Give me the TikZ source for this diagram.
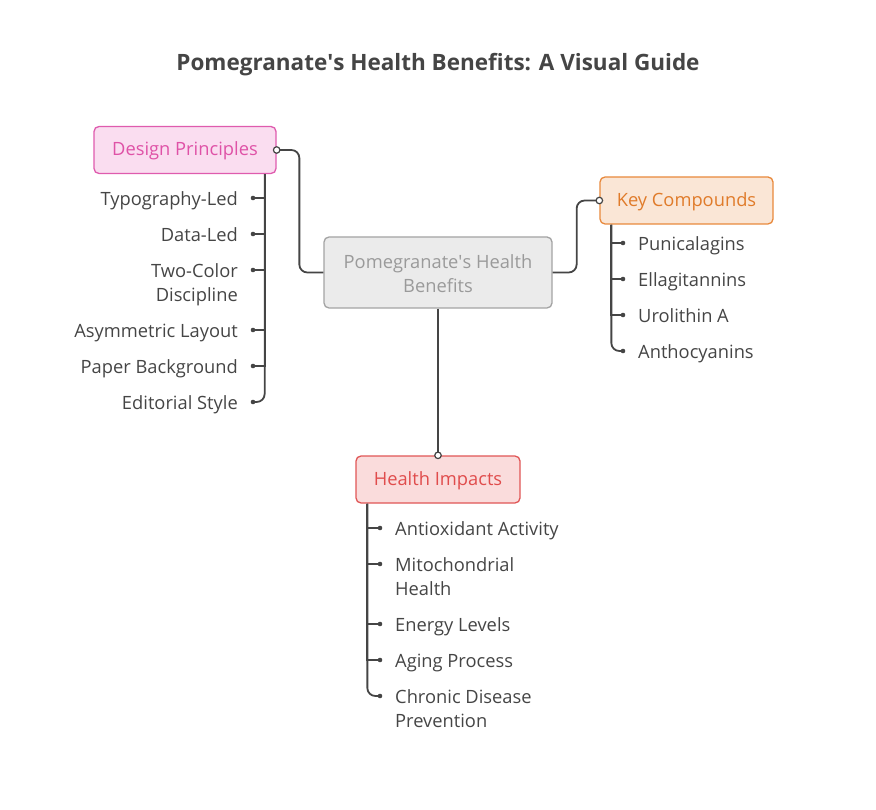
\documentclass[tikz,border=0pt]{standalone}
\usepackage{fontspec}
\setmainfont{Open Sans}
\usetikzlibrary{positioning}

\definecolor{ink}{HTML}{454545}
\definecolor{hubfill}{HTML}{EBEBEB}
\definecolor{hubline}{HTML}{A3A3A3}
\definecolor{hubtext}{HTML}{9A9A9A}
\definecolor{pinkfill}{HTML}{FADDF0}
\definecolor{pinkline}{HTML}{DF5BAE}
\definecolor{pinktext}{HTML}{DF52A7}
\definecolor{orangefill}{HTML}{FAE6D6}
\definecolor{orangeline}{HTML}{E8893C}
\definecolor{orangetext}{HTML}{E07B2A}
\definecolor{redfill}{HTML}{FADCDC}
\definecolor{redline}{HTML}{E05656}
\definecolor{redtext}{HTML}{E04C4C}

\begin{document}
\begin{tikzpicture}
    [x=1pt,y=-1pt,
    every node/.style={font=\fontsize{18.3}{24}\selectfont},
    box/.style={rounded corners=5pt, line width=1.3pt, minimum height=47pt, inner sep=0pt},
    topic/.style={box, draw=#1line, fill=#1fill, text=#1text, text height=15.5pt, text depth=4.4pt},
    hub/.style={box, draw=hubline, fill=hubfill, text=hubtext, align=center,
      minimum width=228pt, minimum height=71pt},
    leafl/.style={anchor=base east, align=right, text=ink, inner sep=0pt},
    leafr/.style={anchor=base west, align=left, text=ink, inner sep=0pt},
    dot/.style={circle, fill=ink, inner sep=0pt, minimum size=4.6pt},
    knob/.style={circle, draw=ink, fill=white, line width=1.2pt, inner sep=0pt, minimum size=6.5pt},
    link/.style={draw=ink, line width=1.8pt}]
    \useasboundingbox (0,0) rectangle (876,810);

    \node[text=ink, font=\fontsize{22.5}{27}\selectfont\bfseries] (title) at (438,64.5)
      {Pomegranate\textquotesingle s Health Benefits: A Visual Guide};

    \node[hub] (hub) at (438,272.5) {\rule{0pt}{16.4pt}Pomegranate\textquotesingle s Health\\Benefits};
    \node[topic=pink, minimum width=182pt] (design) at (185,150) {Design Principles};
    \node[topic=orange, minimum width=173pt] (keys) at (686.5,200.5) {Key Compounds};
    \node[topic=red, minimum width=164pt] (impact) at (438,479.5) {Health Impacts};

    % design principles
    \node[leafl] (typo) at (238,205.5) {Typography-Led};
    \node[leafl] (data) at (238,241.5) {Data-Led};
    \node[leafl] (twocol) at (238,301.5) {Two-Color\\Discipline};
    \node[leafl] (asym) at (238,337.5) {Asymmetric Layout};
    \node[leafl] (paper) at (238,373.5) {Paper Background};
    \node[leafl] (edit) at (238,409.5) {Editorial Style};
    \node[dot] (d-typo) at (253,198) {};
    \node[dot] (d-data) at (253,234) {};
    \node[dot] (d-twocol) at (253,270) {};
    \node[dot] (d-asym) at (253,330) {};
    \node[dot] (d-paper) at (253,366) {};
    \node[dot] (d-edit) at (253,402) {};

    % key compounds
    \node[leafr] (puni) at (638,250.5) {Punicalagins};
    \node[leafr] (ella) at (638,286.5) {Ellagitannins};
    \node[leafr] (uro) at (638,322.5) {Urolithin A};
    \node[leafr] (antho) at (638,358.5) {Anthocyanins};
    \node[dot] (d-puni) at (623,243) {};
    \node[dot] (d-ella) at (623,279) {};
    \node[dot] (d-uro) at (623,315) {};
    \node[dot] (d-antho) at (623,351) {};

    % health impacts
    \node[leafr] (antiox) at (395,535.5) {Antioxidant Activity};
    \node[leafr] (mito) at (395,595.5) {Mitochondrial\\Health};
    \node[leafr] (energy) at (395,631.5) {Energy Levels};
    \node[leafr] (aging) at (395,667.5) {Aging Process};
    \node[leafr] (chronic) at (395,727.5) {Chronic Disease\\Prevention};
    \node[dot] (d-antiox) at (380,528) {};
    \node[dot] (d-mito) at (380,564) {};
    \node[dot] (d-energy) at (380,624) {};
    \node[dot] (d-aging) at (380,660) {};
    \node[dot] (d-chronic) at (380,696) {};

    \draw[link, rounded corners=8pt] (hub.west) -- ++(-24,0) |- (design.east);
    \draw[link, rounded corners=8pt] (hub.east) -- ++(24,0) |- (keys.west);
    \draw[link] (hub.south) -- (impact.north);
    \node[knob] (k-design) at (design.east) {};
    \node[knob] (k-keys) at (keys.west) {};
    \node[knob] (k-impact) at (impact.north) {};

    \foreach \d in {typo,data,twocol,asym,paper}
      \draw[link] ([xshift=-12pt]design.south east) |- (d-\d.center);
    \draw[link, rounded corners=8pt] ([xshift=-12pt]design.south east) |- (d-edit.center);
    \foreach \d in {puni,ella,uro}
      \draw[link] ([xshift=12pt]keys.south west) |- (d-\d.center);
    \draw[link, rounded corners=8pt] ([xshift=12pt]keys.south west) |- (d-antho.center);
    \foreach \d in {antiox,mito,energy,aging}
      \draw[link] ([xshift=12pt]impact.south west) |- (d-\d.center);
    \draw[link, rounded corners=8pt] ([xshift=12pt]impact.south west) |- (d-chronic.center);
\end{tikzpicture}
\end{document}
